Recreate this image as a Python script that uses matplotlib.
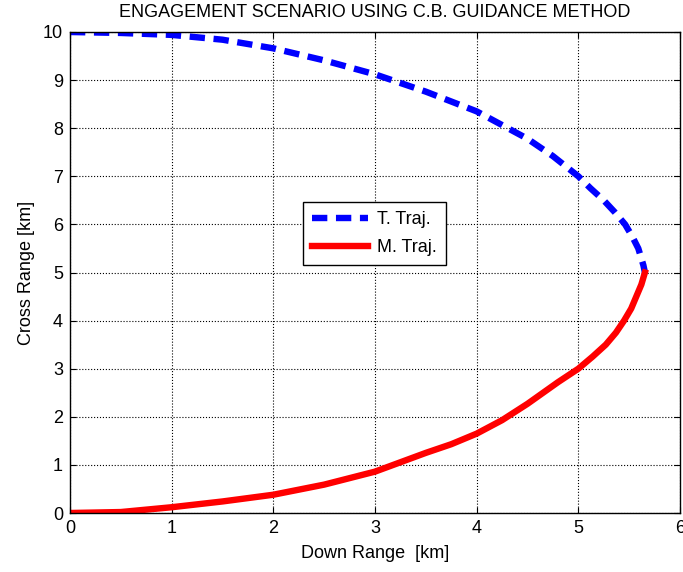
import matplotlib
matplotlib.use("Agg")
import matplotlib.pyplot as plt

plt.rcParams['font.family'] = ['Liberation Sans', 'DejaVu Sans']

# Target trajectory (km)
t_x = [0.0, 0.5, 1.0, 1.5, 2.0, 2.5, 3.0, 3.5, 4.0, 4.5, 4.75, 5.0, 5.12, 5.25, 5.36, 5.46, 5.53, 5.59, 5.64, 5.655]
t_y = [10.0, 9.98, 9.94, 9.84, 9.66, 9.41, 9.12, 8.76, 8.35, 7.78, 7.42, 7.0, 6.75, 6.5, 6.25, 6.0, 5.75, 5.5, 5.15, 5.0]

# Missile trajectory (km)
m_x = [0.0, 0.5, 1.0, 1.5, 2.0, 2.5, 3.0, 3.5, 3.75, 4.0, 4.25, 4.5, 4.8, 5.0, 5.14, 5.27, 5.37, 5.45, 5.52, 5.57, 5.62, 5.655]
m_y = [0.0, 0.02, 0.12, 0.24, 0.38, 0.59, 0.86, 1.25, 1.43, 1.65, 1.93, 2.27, 2.72, 3.0, 3.25, 3.5, 3.75, 4.0, 4.25, 4.5, 4.75, 5.0]

x_ticks = [0, 1, 2, 3, 4, 5, 6]
y_ticks = [0, 1, 2, 3, 4, 5, 6, 7, 8, 9, 10]

fig = plt.figure(figsize=(6.83, 5.72), dpi=100)
ax = fig.add_axes([70/683, 59/572, 610/683, 481/572])

lw = 4.6
ax.plot(t_x, t_y, color='#0000ff', lw=lw, linestyle=(0, (2.4, 1.35)),
        label='T. Traj.', dash_capstyle='butt', dash_joinstyle='round')
ax.plot(m_x, m_y, color='#ff0000', lw=lw, label='M. Traj.', solid_joinstyle='round')

ax.set_xlim(0, 6)
ax.set_ylim(0, 10)
ax.set_xticks(x_ticks)
ax.set_yticks(y_ticks)
ax.tick_params(direction='in', top=True, right=True, labelsize=13, length=4, width=0.8, pad=5)
ax.grid(True, color='black', linestyle=':', linewidth=0.8)
for s in ax.spines.values():
    s.set_linewidth(1.0)

ax.set_title('ENGAGEMENT SCENARIO USING C.B. GUIDANCE METHOD', fontsize=13, pad=11)
ax.set_xlabel('Down Range  [km]', fontsize=13, labelpad=6)
ax.set_ylabel('Cross Range [km]', fontsize=13, labelpad=6)

leg = ax.legend(loc='upper left', bbox_to_anchor=(303/683, 1 - 202/572),
                bbox_transform=fig.transFigure, borderaxespad=0, fancybox=False,
                framealpha=1, edgecolor='black', fontsize=13, handlelength=3.1,
                handletextpad=0.5, borderpad=0.5, labelspacing=0.6)
leg.get_frame().set_linewidth(1.0)

fig.savefig('out.png', dpi=100)
